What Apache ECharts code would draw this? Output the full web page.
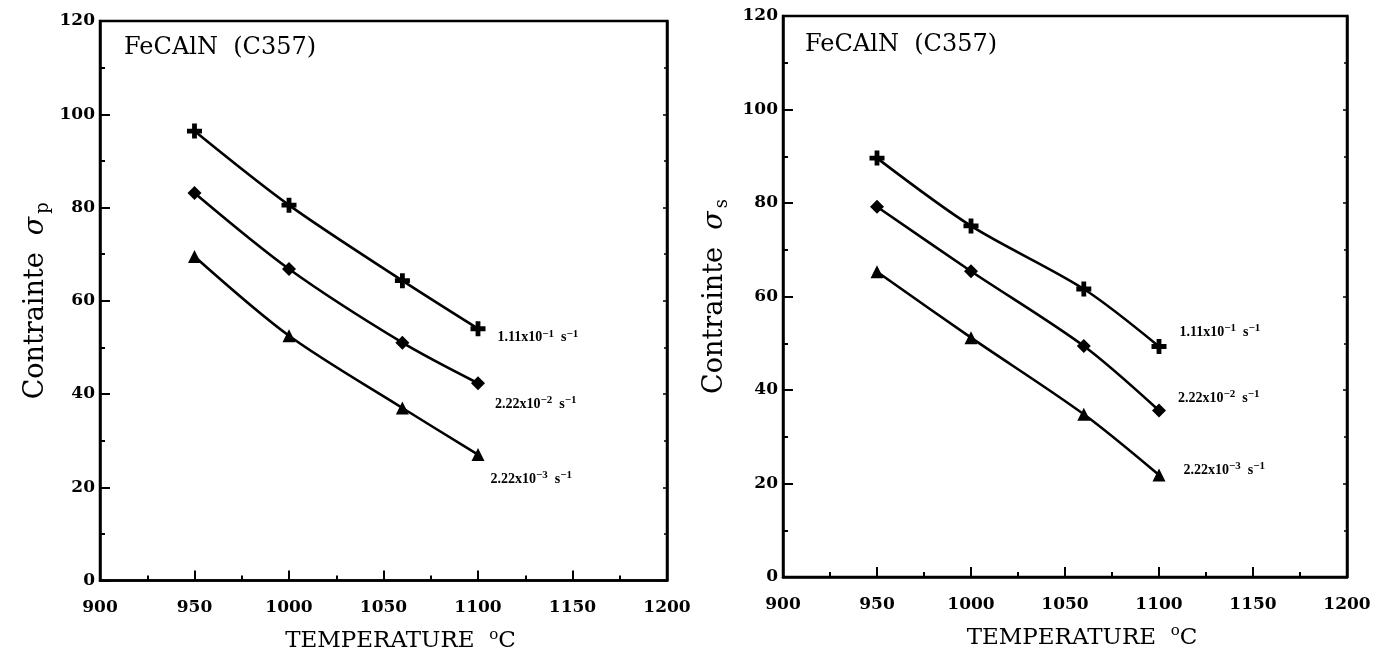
<!DOCTYPE html>
<html><head><meta charset="utf-8">
<script src="https://cdn.jsdelivr.net/npm/echarts@6/dist/echarts.min.js"></script>
<style>html,body{margin:0;padding:0;background:#fff}#c{width:1374px;height:658px}</style>
</head><body><div id="c"></div>
<script>
const temps = [950, 1000, 1060, 1100];
const xTicks = [900, 950, 1000, 1050, 1100, 1150, 1200];
const yTicks = [0, 20, 40, 60, 80, 100, 120];
const rateLabels = ['1.11x10{sup|−1}  s{sup|−1}', '2.22x10{sup|−2}  s{sup|−1}', '2.22x10{sup|−3}  s{sup|−1}'];
// Left panel (sigma_p)
const peakHigh = [96.4, 80.5, 64.3, 54.0];
const peakMid  = [83.1, 66.8, 51.0, 42.3];
const peakLow  = [69.5, 52.5, 37.0, 27.0];
// Right panel (sigma_s)
const steadyHigh = [89.6, 75.1, 61.6, 49.3];
const steadyMid  = [79.2, 65.4, 49.4, 35.6];
const steadyLow  = [65.3, 51.2, 34.8, 21.8];
const panelTitle = 'FeCAlN  (C357)';

const FONT = '"DejaVu Serif", serif';
const LFONT = '"Liberation Serif", serif';
const plusPath = 'path://M3.4,0H6.6V3.4H10V6.6H6.6V10H3.4V6.6H0V3.4H3.4Z';
const symbols = [plusPath, 'diamond', 'triangle'];
const symSizes = [15, 14, 13];

const chart = echarts.init(document.getElementById('c'));
const supRich = {
  sup: {fontSize: 11, fontWeight: 'bold', fontFamily: LFONT, color: '#000', padding: [0, 0, 8, 0]}
};
function mkSeries(vals, idx, gi, labelPos) {
  const data = vals.map((v, i) => {
    const d = {value: [temps[i], v]};
    if (i === vals.length - 1) {
      d.label = {
        show: true, position: 'right', distance: labelPos[0], offset: [0, labelPos[1]],
        formatter: rateLabels[idx],
        color: '#000', fontFamily: LFONT, fontWeight: 'bold', fontSize: 14, rich: supRich
      };
    }
    return d;
  });
  return {
    type: 'line', xAxisIndex: gi, yAxisIndex: gi * 2, data: data, smooth: 0.3,
    symbol: symbols[idx], symbolSize: symSizes[idx], showSymbol: true,
    itemStyle: {color: '#000'}, lineStyle: {color: '#000', width: 2.6},
    label: {show: false}, z: 3, animation: false
  };
}
function xAxis(gi) {
  return {
    type: 'value', gridIndex: gi, min: 900, max: 1200, interval: 50,
    axisLine: {show: true, lineStyle: {color: '#000', width: 2.5}},
    axisTick: {show: true, inside: true, length: 10, lineStyle: {color: '#000', width: 2}},
    minorTick: {show: true, splitNumber: 2, length: 5, lineStyle: {color: '#000', width: 2}},
    splitLine: {show: false},
    axisLabel: {color: '#000', fontFamily: FONT, fontWeight: 'bold', fontSize: 17, margin: 19,
      formatter: v => xTicks.includes(v) ? String(v) : ''},
    name: 'TEMPERATURE  {sup|o}C', nameLocation: 'middle', nameGap: 47,
    nameTextStyle: {color: '#000', fontFamily: FONT, fontSize: 23, padding: [0, 0, 0, 34],
      rich: {sup: {fontSize: 15, fontFamily: FONT, color: '#000', padding: [0, 0, 13, 0]}}}
  };
}
function yAxes(gi, sub, gap) {
  return [{
    type: 'value', gridIndex: gi, min: 0, max: 120, interval: 20,
    axisLine: {show: true, lineStyle: {color: '#000', width: 2.5}},
    axisTick: {show: true, inside: true, length: 10, lineStyle: {color: '#000', width: 2}},
    minorTick: {show: true, splitNumber: 2, length: 5, lineStyle: {color: '#000', width: 2}},
    splitLine: {show: false},
    axisLabel: {color: '#000', fontFamily: FONT, fontWeight: 'bold', fontSize: 17, margin: 5,
      formatter: v => yTicks.includes(v) ? String(v) : ''},
    name: 'Contrainte  {sig|σ}{sub|' + sub + '}', nameLocation: 'middle', nameRotate: 90, nameGap: gap,
    nameTextStyle: {color: '#000', fontFamily: FONT, fontSize: 27,
      rich: {sig: {fontSize: 27, fontStyle: 'italic', fontFamily: FONT, color: '#000'},
             sub: {fontSize: 18, fontFamily: FONT, color: '#000', padding: [14, 0, 0, 3]}}}
  }, {
    type: 'value', gridIndex: gi, min: 0, max: 120, interval: 20, position: 'right',
    axisLine: {show: true, lineStyle: {color: '#000', width: 2.5}},
    axisTick: {show: true, inside: true, length: 4, lineStyle: {color: '#000', width: 1.5}},
    minorTick: {show: true, splitNumber: 2, length: 3, lineStyle: {color: '#000', width: 1.5}},
    splitLine: {show: false}, axisLabel: {show: false}
  }];
}
const option = {
  backgroundColor: '#fff',
  animation: false,
  grid: [
    {left: 100, right: 707, top: 21, bottom: 75, show: true, borderColor: '#000', borderWidth: 2.5},
    {left: 783, right: 27, top: 16, bottom: 81, show: true, borderColor: '#000', borderWidth: 2.5}
  ],
  xAxis: [xAxis(0), xAxis(1)],
  yAxis: [...yAxes(0, 'p', 48), ...yAxes(1, 's', 52)],
  title: [
    {text: panelTitle, left: 119, top: 31, textStyle: {color: '#000', fontFamily: FONT, fontWeight: 'normal', fontSize: 24}},
    {text: panelTitle, left: 800, top: 28, textStyle: {color: '#000', fontFamily: FONT, fontWeight: 'normal', fontSize: 24}}
  ],
  series: [
    mkSeries(peakHigh, 0, 0, [12, 9]),
    mkSeries(peakMid, 1, 0, [10, 21]),
    mkSeries(peakLow, 2, 0, [6, 25]),
    mkSeries(steadyHigh, 0, 1, [13, -14]),
    mkSeries(steadyMid, 1, 1, [12, -12]),
    mkSeries(steadyLow, 2, 1, [18, -5])
  ]
};
chart.setOption(option);
</script></body></html>
